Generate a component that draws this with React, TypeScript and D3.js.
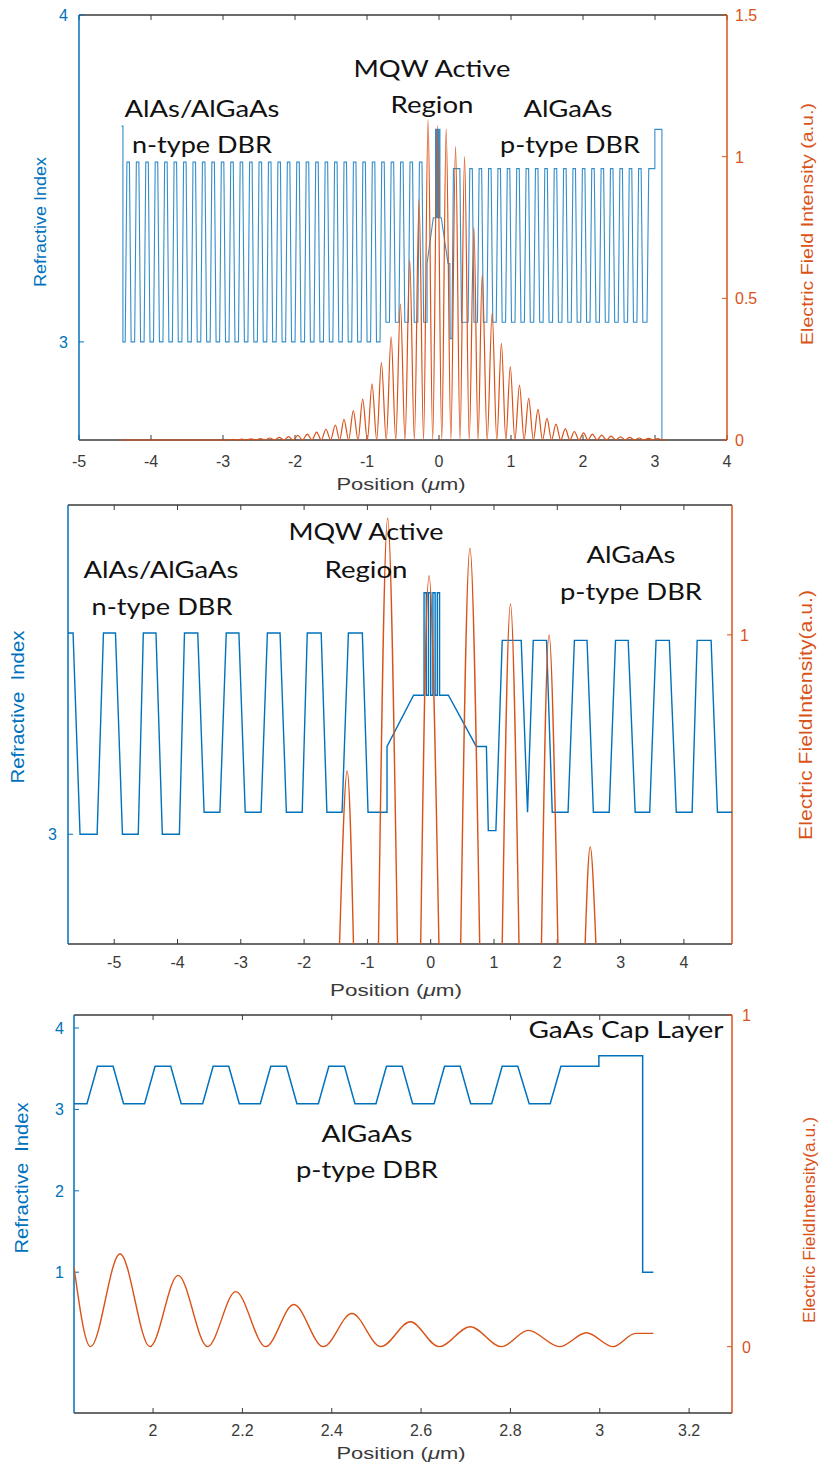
import React from 'react';
import * as d3 from 'd3';

const BLUE = '#0072BD';
const ORANGE = '#D95319';
const DARK = '#3a3a3a';
const TICK_FONT = '"Liberation Sans", Arial, Helvetica, sans-serif';
const NOTE_FONT = 'Lato, "Open Sans", sans-serif';

// ---------------- shared layer geometry (µm) ----------------
const dbrHighHalfWidth = 0.0175;
const dbrRamp = 0.0235;

// ---------------- Panel 1 : full VCSEL structure ----------------
const topXTicks = [-5, -4, -3, -2, -1, 0, 1, 2, 3, 4];
const topIndexTicks = [3, 4];
const topFieldTicks = [0, 0.5, 1, 1.5];
const topNHighCenters = [-4.317, -4.186, -4.055, -3.924, -3.793, -3.662, -3.53, -3.399, -3.268, -3.137, -3.006, -2.875, -2.744, -2.613, -2.482, -2.351, -2.22, -2.089, -1.958, -1.827, -1.695, -1.564, -1.433, -1.302, -1.171, -1.04, -0.909, -0.778, -0.647, -0.516, -0.385, -0.254];
const topPHighCenters = [0.445, 0.575, 0.706, 0.836, 0.966, 1.097, 1.227, 1.357, 1.487, 1.618, 1.748, 1.878, 2.009, 2.139, 2.269, 2.399, 2.53, 2.66, 2.79];
const topNHigh = 3.55;
const topNLow = 3.0;
const topNLowNearCavity = 3.06;
const topNLowSwitchX = -0.74;
const topPHigh = 3.53;
const topPLow = 3.06;
const topLeadLayers = [[-4.41, -4.39, 3.66], [-4.39, -4.358, 3.0]];
const topCavityLayers = [
  [-0.213, -0.166, 3.06], [-0.166, -0.166, 3.24], [-0.079, -0.048, 3.38],
  [-0.048, -0.038, 3.65], [-0.038, -0.031, 3.38], [-0.031, -0.021, 3.65], [-0.021, -0.014, 3.38],
  [-0.014, -0.004, 3.65], [-0.004, 0.003, 3.38], [0.003, 0.013, 3.65], [0.013, 0.032, 3.38],
  [0.125, 0.15, 3.24], [0.155, 0.18, 3.01], [0.2, 0.29, 3.53], [0.313, 0.404, 3.06],
];
const topCapLayers = [[2.831, 2.889, 3.06], [2.913, 2.998, 3.53], [2.998, 3.096, 3.65], [3.096, 3.2, 1.0]];
const topFieldPeakX = [-2.87, -2.74, -2.61, -2.48, -2.35, -2.22, -2.09, -1.96, -1.83, -1.7, -1.57, -1.44, -1.32, -1.19, -1.06, -0.93, -0.8, -0.665, -0.536, -0.407, -0.277, -0.152, -0.023, 0.1, 0.23, 0.355, 0.485, 0.6, 0.738, 0.867, 0.99, 1.118, 1.246, 1.375, 1.5, 1.625, 1.755, 1.88, 2.008, 2.13, 2.26, 2.39, 2.52, 2.65, 2.78, 2.91, 3.04];
const topFieldPeakI = [0.002, 0.003, 0.004, 0.005, 0.007, 0.009, 0.012, 0.016, 0.021, 0.028, 0.038, 0.053, 0.073, 0.104, 0.144, 0.198, 0.273, 0.364, 0.48, 0.636, 0.85, 1.13, 1.11, 1.098, 1.036, 1.0, 0.75, 0.583, 0.447, 0.341, 0.259, 0.194, 0.147, 0.108, 0.076, 0.056, 0.039, 0.03, 0.025, 0.021, 0.017, 0.014, 0.011, 0.009, 0.007, 0.006, 0.005];
const topFieldStartX = -4.42;
const topFieldEndX = 3.16;

// ---------------- Panel 2 : cavity close-up ----------------
const midXTicks = [-5, -4, -3, -2, -1, 0, 1, 2, 3, 4];
const midIndexTicks = [3];
const midFieldTicks = [1];
const midLayers = [
  [-5.73, -5.65, 3.55], [-5.54, -5.27, 3.0], [-5.17, -4.98, 3.55], [-4.87, -4.62, 3.0],
  [-4.54, -4.34, 3.55], [-4.24, -3.97, 3.0], [-3.89, -3.68, 3.55], [-3.58, -3.33, 3.06],
  [-3.23, -3.03, 3.55], [-2.93, -2.68, 3.06], [-2.58, -2.38, 3.55], [-2.28, -2.03, 3.06],
  [-1.95, -1.73, 3.55], [-1.64, -1.4, 3.06], [-1.3, -1.08, 3.55], [-0.99, -0.69, 3.06],
  [-0.69, -0.69, 3.24], [-0.27, -0.105, 3.38],
  [-0.105, -0.07, 3.66], [-0.07, -0.035, 3.38], [-0.035, 0.0, 3.66], [0.0, 0.035, 3.38],
  [0.035, 0.07, 3.66], [0.07, 0.105, 3.38], [0.105, 0.14, 3.66], [0.14, 0.28, 3.38],
  [0.72, 0.88, 3.24], [0.91, 1.03, 3.01], [1.13, 1.43, 3.53], [1.53, 1.53, 3.06],
  [1.62, 1.83, 3.53], [1.92, 2.17, 3.06], [2.27, 2.47, 3.53], [2.57, 2.82, 3.06],
  [2.92, 3.12, 3.53], [3.23, 3.46, 3.06], [3.56, 3.77, 3.53], [3.88, 4.13, 3.06],
  [4.21, 4.43, 3.53], [4.53, 4.76, 3.06],
];
const midLobeLeftX = [-1.44, -0.825, -0.158, 0.474, 1.13, 1.75, 2.44];
const midLobePeakX = [-1.32, -0.68, -0.026, 0.62, 1.26, 1.87, 2.52];
const midLobeRightX = [-1.22, -0.525, 0.13, 0.774, 1.395, 2.01, 2.61];
const midLobePeak = [0.846, 1.132, 1.067, 1.098, 1.035, 1.0, 0.76];

// ---------------- Panel 3 : p-DBR / cap close-up ----------------
const botXTicks = [2, 2.2, 2.4, 2.6, 2.8, 3, 3.2];
const botIndexTicks = [1, 2, 3, 4];
const botFieldTicks = [0, 1];
const botPHighCenters = [1.893, 2.022, 2.152, 2.281, 2.411, 2.54, 2.67, 2.799];
const botPHigh = 3.53;
const botPLow = 3.07;
const botLeadLayers = [[1.8, 1.852, 3.07]];
const botCapLayers = [[2.842, 2.889, 3.07], [2.913, 2.998, 3.53], [2.998, 3.096, 3.66], [3.096, 3.12, 1.0]];
const botFieldX = [1.823, 1.86, 1.926, 1.993, 2.056, 2.122, 2.185, 2.252, 2.315, 2.381, 2.445, 2.51, 2.576, 2.64, 2.71, 2.78, 2.84, 2.91, 2.97, 3.03, 3.08, 3.12];
const botFieldI = [0.24, 0, 0.28, 0, 0.215, 0, 0.166, 0, 0.127, 0, 0.1, 0, 0.075, 0, 0.06, 0, 0.049, 0, 0.042, 0, 0.04, 0.04];

// ---------------- helpers ----------------
type Layer = number[];

function dbrLayers(centers: number[], high: number, lowAt: (x: number) => number): Layer[] {
  const out: Layer[] = [];
  centers.forEach((c, i) => {
    out.push([c - dbrHighHalfWidth, c + dbrHighHalfWidth, high]);
    const next = centers[i + 1];
    if (next !== undefined) {
      const a = c + dbrHighHalfWidth + dbrRamp;
      const b = next - dbrHighHalfWidth - dbrRamp;
      out.push([a, b, lowAt((a + b) / 2)]);
    }
  });
  return out;
}

function layerPoints(layers: Layer[]): [number, number][] {
  const pts: [number, number][] = [];
  layers.forEach(([x0, x1, n]) => {
    pts.push([x0, n]);
    pts.push([x1, n]);
  });
  return pts;
}

function fieldFromPeaks(px: number[], pv: number[], start: number, end: number): [number, number][] {
  const pts: [number, number][] = [[start, 0]];
  px.forEach((x, i) => {
    const prev = i > 0 ? px[i - 1] : x - (px[1] - px[0]);
    pts.push([(prev + x) / 2, 0]);
    pts.push([x, pv[i]]);
  });
  const n = px.length;
  pts.push([px[n - 1] + (px[n - 1] - px[n - 2]) / 2, 0]);
  pts.push([end, 0]);
  return pts;
}

type Title = { text: string; x: number; y: number; len: number; size: number };
type Note = { text: string; x: number; y: number; len: number };

type AxesProps = {
  id: string;
  L: number; R: number; T: number; B: number;
  x: d3.ScaleLinear<number, number>;
  yL: d3.ScaleLinear<number, number>;
  yR: d3.ScaleLinear<number, number>;
  xTicks: number[]; lTicks: number[]; rTicks: number[];
  xLabelBase: number; lLabelX: number; rLabelX: number;
  xTitle: { x: number; y: number; len: number; size: number };
  lTitle: Title; rTitle: Title;
  notes: Note[];
  children?: React.ReactNode;
};

function Axes(p: AxesProps) {
  const tl = 5;
  const fs = 16;
  const fmt = (v: number) => String(v);
  return (
    <g>
      <line x1={p.L} x2={p.R} y1={p.T} y2={p.T} stroke={DARK} strokeWidth={1.3} />
      <line x1={p.L} x2={p.R} y1={p.B} y2={p.B} stroke={DARK} strokeWidth={1.3} />
      {p.xTicks.map((t) => (
        <g key={'xt' + t}>
          <line x1={p.x(t)} x2={p.x(t)} y1={p.B} y2={p.B - tl} stroke={DARK} strokeWidth={1} />
          <line x1={p.x(t)} x2={p.x(t)} y1={p.T} y2={p.T + tl} stroke={DARK} strokeWidth={1} />
          <text x={p.x(t)} y={p.xLabelBase} textAnchor="middle" fontFamily={TICK_FONT} fontSize={fs} fill={DARK}>{fmt(t)}</text>
        </g>
      ))}
      <line x1={p.L} x2={p.L} y1={p.T} y2={p.B} stroke={BLUE} strokeWidth={1.5} />
      {p.lTicks.map((t) => (
        <g key={'lt' + t}>
          <line x1={p.L} x2={p.L + tl} y1={p.yL(t)} y2={p.yL(t)} stroke={BLUE} strokeWidth={1} />
          <text x={p.lLabelX} y={p.yL(t) + 6} textAnchor="end" fontFamily={TICK_FONT} fontSize={fs} fill={BLUE}>{fmt(t)}</text>
        </g>
      ))}
      <line x1={p.R} x2={p.R} y1={p.T} y2={p.B} stroke={ORANGE} strokeWidth={1.5} />
      {p.rTicks.map((t) => (
        <g key={'rt' + t}>
          <line x1={p.R} x2={p.R - tl} y1={p.yR(t)} y2={p.yR(t)} stroke={ORANGE} strokeWidth={1} />
          <text x={p.rLabelX} y={p.yR(t) + 6} textAnchor="start" fontFamily={TICK_FONT} fontSize={fs} fill={ORANGE}>{fmt(t)}</text>
        </g>
      ))}
      <text x={p.xTitle.x} y={p.xTitle.y} textAnchor="middle" fontFamily={TICK_FONT} fontSize={p.xTitle.size} fill={DARK}
        textLength={p.xTitle.len} lengthAdjust="spacingAndGlyphs">
        Position (<tspan fontStyle="italic">μ</tspan>m)
      </text>
      <text transform={`translate(${p.lTitle.x},${p.lTitle.y}) rotate(-90)`} textAnchor="middle" dominantBaseline="central"
        fontFamily={TICK_FONT} fontSize={p.lTitle.size} fill={BLUE} xmlSpace="preserve" style={{ whiteSpace: 'pre' }}
        textLength={p.lTitle.len} lengthAdjust="spacingAndGlyphs">{p.lTitle.text}</text>
      <text transform={`translate(${p.rTitle.x},${p.rTitle.y}) rotate(-90)`} textAnchor="middle" dominantBaseline="central"
        fontFamily={TICK_FONT} fontSize={p.rTitle.size} fill={ORANGE} xmlSpace="preserve" style={{ whiteSpace: 'pre' }}
        textLength={p.rTitle.len} lengthAdjust="spacingAndGlyphs">{p.rTitle.text}</text>
      <defs>
        <clipPath id={p.id}>
          <rect x={p.L} y={p.T - 1} width={p.R - p.L} height={p.B - p.T + 2} />
        </clipPath>
      </defs>
      <g clipPath={`url(#${p.id})`}>{p.children}</g>
      {p.notes.map((n) => (
        <text key={n.text + n.y} x={n.x} y={n.y} textAnchor="middle" fontFamily={NOTE_FONT} fontSize={24} fill="#111"
          textLength={n.len} lengthAdjust="spacingAndGlyphs">{n.text}</text>
      ))}
    </g>
  );
}

function TopPanel() {
  const L = 79, R = 727, T = 15, B = 440;
  const x = d3.scaleLinear().domain([-5, 4]).range([L, R]);
  const yL = d3.scaleLinear().domain([2.7, 4]).range([B, T]);
  const yR = d3.scaleLinear().domain([0, 1.5]).range([B, T]);
  const layers: Layer[] = [
    ...topLeadLayers,
    ...dbrLayers(topNHighCenters, topNHigh, (v) => (v > topNLowSwitchX ? topNLowNearCavity : topNLow)),
    ...topCavityLayers,
    ...dbrLayers(topPHighCenters, topPHigh, () => topPLow),
    ...topCapLayers,
  ];
  const idx = d3.line<[number, number]>().x((d) => x(d[0])).y((d) => yL(d[1]));
  const fld = d3.line<[number, number]>().x((d) => x(d[0])).y((d) => yR(d[1])).curve(d3.curveMonotoneX);
  const field = fieldFromPeaks(topFieldPeakX, topFieldPeakI, topFieldStartX, topFieldEndX);
  return (
    <Axes id="clipTop" L={L} R={R} T={T} B={B} x={x} yL={yL} yR={yR}
      xTicks={topXTicks} lTicks={topIndexTicks} rTicks={topFieldTicks}
      xLabelBase={467} lLabelX={68} rLabelX={735}
      xTitle={{ x: 401, y: 490, len: 129, size: 17 }}
      lTitle={{ text: 'Refractive Index', x: 40, y: 222, len: 130, size: 16 }}
      rTitle={{ text: 'Electric Field Intensity (a.u.)', x: 807, y: 224, len: 242, size: 17 }}
      notes={[
        { text: 'MQW Active', x: 432, y: 77, len: 157 },
        { text: 'Region', x: 432, y: 113, len: 83 },
        { text: 'AlAs/AlGaAs', x: 202, y: 117, len: 155 },
        { text: 'n-type DBR', x: 202, y: 153, len: 140 },
        { text: 'AlGaAs', x: 568, y: 117, len: 89 },
        { text: 'p-type DBR', x: 570, y: 153, len: 140 },
      ]}>
      <path d={idx(layerPoints(layers)) || ''} fill="none" stroke={BLUE} strokeWidth={1.1} strokeOpacity={0.8} />
      <path d={fld(field) || ''} fill="none" stroke={ORANGE} strokeWidth={1.2} />
    </Axes>
  );
}

function MidPanel() {
  const L = 68, R = 732, T = 505, B = 944;
  const x = d3.scaleLinear().domain([-5.73, 4.76]).range([L, R]);
  const yL = d3.scaleLinear().domain([2.7, 3.9]).range([B, T]);
  const yR = d3.scaleLinear().domain([0.65, 1.147]).range([B, T]);
  const idx = d3.line<[number, number]>().x((d) => x(d[0])).y((d) => yL(d[1]));
  const lobe = d3.line<[number, number]>().x((d) => x(d[0])).y((d) => yR(d[1])).curve(d3.curveNatural);
  const floor = yR.domain()[0];
  return (
    <Axes id="clipMid" L={L} R={R} T={T} B={B} x={x} yL={yL} yR={yR}
      xTicks={midXTicks} lTicks={midIndexTicks} rTicks={midFieldTicks}
      xLabelBase={968} lLabelX={57} rLabelX={740}
      xTitle={{ x: 396, y: 996, len: 132, size: 17 }}
      lTitle={{ text: 'Refractive  Index', x: 18, y: 707, len: 153, size: 18 }}
      rTitle={{ text: 'Electric FieldIntensity(a.u.)', x: 806, y: 715, len: 250, size: 18 }}
      notes={[
        { text: 'MQW Active', x: 366, y: 540, len: 155 },
        { text: 'Region', x: 366, y: 578, len: 83 },
        { text: 'AlAs/AlGaAs', x: 161, y: 578, len: 155 },
        { text: 'n-type DBR', x: 162, y: 615, len: 141 },
        { text: 'AlGaAs', x: 631, y: 563, len: 89 },
        { text: 'p-type DBR', x: 631, y: 600, len: 142 },
      ]}>
      <path d={idx(layerPoints(midLayers)) || ''} fill="none" stroke={BLUE} strokeWidth={1.4} />
      {midLobePeakX.map((px, i) => (
        <path key={'lobe' + i}
          d={lobe([[midLobeLeftX[i], floor], [px, midLobePeak[i]], [midLobeRightX[i], floor]]) || ''}
          fill="none" stroke={ORANGE} strokeWidth={1.4} />
      ))}
    </Axes>
  );
}

function BottomPanel() {
  const L = 74, R = 732, T = 1015, B = 1413;
  const x = d3.scaleLinear().domain([1.823, 3.296]).range([L, R]);
  const yL = d3.scaleLinear().domain([-0.73, 4.16]).range([B, T]);
  const yR = d3.scaleLinear().domain([-0.2, 1.0]).range([B, T]);
  const layers: Layer[] = [
    ...botLeadLayers,
    ...dbrLayers(botPHighCenters, botPHigh, () => botPLow),
    ...botCapLayers,
  ];
  const idx = d3.line<[number, number]>().x((d) => x(d[0])).y((d) => yL(d[1]));
  const fld = d3.line<[number, number]>().x((d) => x(d[0])).y((d) => yR(d[1])).curve(d3.curveMonotoneX);
  const field: [number, number][] = botFieldX.map((v, i) => [v, botFieldI[i]]);
  return (
    <Axes id="clipBot" L={L} R={R} T={T} B={B} x={x} yL={yL} yR={yR}
      xTicks={botXTicks} lTicks={botIndexTicks} rTicks={botFieldTicks}
      xLabelBase={1436} lLabelX={64} rLabelX={742}
      xTitle={{ x: 401, y: 1459, len: 129, size: 17 }}
      lTitle={{ text: 'Refractive  Index', x: 22, y: 1178, len: 151, size: 18 }}
      rTitle={{ text: 'Electric FieldIntensity(a.u.)', x: 809, y: 1220, len: 206, size: 16 }}
      notes={[
        { text: 'GaAs Cap Layer', x: 626, y: 1038, len: 195 },
        { text: 'AlGaAs', x: 367, y: 1142, len: 91 },
        { text: 'p-type DBR', x: 367, y: 1178, len: 142 },
      ]}>
      <path d={idx(layerPoints(layers)) || ''} fill="none" stroke={BLUE} strokeWidth={1.5} />
      <path d={fld(field) || ''} fill="none" stroke={ORANGE} strokeWidth={1.4} />
    </Axes>
  );
}

export default function App() {
  return (
    <svg width={820} height={1464} viewBox="0 0 820 1464"
      style={{ position: 'absolute', left: 0, top: 0, background: '#ffffff', display: 'block' }}>
      <rect x={0} y={0} width={820} height={1464} fill="#ffffff" />
      <TopPanel />
      <MidPanel />
      <BottomPanel />
    </svg>
  );
}
